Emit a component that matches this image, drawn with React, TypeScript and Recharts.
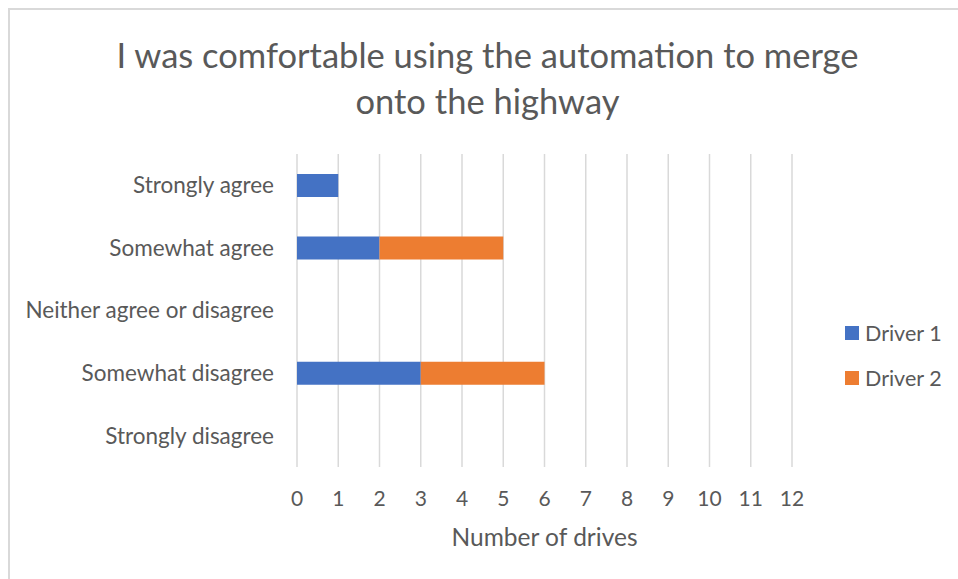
import React from 'react';
import { BarChart, Bar, XAxis, YAxis, CartesianGrid } from 'recharts';

const responses = [
  'Strongly agree',
  'Somewhat agree',
  'Neither agree or disagree',
  'Somewhat disagree',
  'Strongly disagree',
];
const driver1 = [1, 2, 0, 3, 0];
const driver2 = [0, 3, 0, 3, 0];
const xTicks = [0, 1, 2, 3, 4, 5, 6, 7, 8, 9, 10, 11, 12];

const series = [
  { key: 'driver1', name: 'Driver 1', color: '#4472C4' },
  { key: 'driver2', name: 'Driver 2', color: '#ED7D31' },
];

const data = responses.map((name, i) => ({
  name,
  driver1: driver1[i],
  driver2: driver2[i],
}));

const FONT = 'Lato, "Liberation Sans", sans-serif';
const TEXT = '#595959';

export default function App() {
  return (
    <div
      style={{
        position: 'absolute',
        left: 0,
        top: 0,
        width: 958,
        height: 579,
        overflow: 'hidden',
        background: '#fff',
        fontFamily: FONT,
      }}
    >
      {/* chart frame */}
      <div
        style={{
          position: 'absolute',
          left: 8,
          top: 8,
          width: 980,
          height: 600,
          border: '2px solid #d9d9d9',
          boxSizing: 'border-box',
        }}
      />
      <div
        style={{
          position: 'absolute',
          left: 0,
          top: 32,
          width: 975,
          textAlign: 'center',
          fontSize: 34.5,
          lineHeight: '46px',
          color: TEXT,
        }}
      >
        I was comfortable using the automation to merge
        <br />
        onto the highway
      </div>
      <div style={{ position: 'absolute', left: 0, top: 0 }}>
        <BarChart
          width={958}
          height={579}
          layout="vertical"
          data={data}
          margin={{ top: 154, right: 166, bottom: 0, left: 0 }}
          barSize={23}
        >
          <CartesianGrid horizontal={false} stroke="#d9d9d9" strokeWidth={1.5} />
          <XAxis
            type="number"
            domain={[0, 12]}
            ticks={xTicks}
            interval={0}
            axisLine={false}
            tickLine={false}
            tickSize={0}
            tickMargin={24}
            height={112}
            tick={{ fill: TEXT, fontSize: 21, fontFamily: FONT }}
            label={{
              value: 'Number of drives',
              position: 'insideTop',
              offset: 62,
              fill: TEXT,
              fontSize: 24.5,
              fontFamily: FONT,
            }}
          />
          <YAxis
            type="category"
            dataKey="name"
            width={297}
            axisLine={false}
            tickLine={false}
            tickSize={0}
            tickMargin={23}
            tick={{ fill: TEXT, fontSize: 22.5, fontFamily: FONT }}
          />
          {series.map((s) => (
            <Bar
              key={s.key}
              dataKey={s.key}
              name={s.name}
              stackId="drives"
              fill={s.color}
              isAnimationActive={false}
            />
          ))}
        </BarChart>
      </div>
      {/* legend */}
      <div style={{ position: 'absolute', left: 845, top: 318 }}>
        {series.map((s) => (
          <div
            key={s.key}
            style={{
              display: 'flex',
              alignItems: 'center',
              height: 30,
              marginBottom: 15,
              color: TEXT,
              fontSize: 21.5,
            }}
          >
            <span
              style={{
                display: 'inline-block',
                width: 14,
                height: 14,
                background: s.color,
                marginRight: 6,
              }}
            />
            {s.name}
          </div>
        ))}
      </div>
    </div>
  );
}
